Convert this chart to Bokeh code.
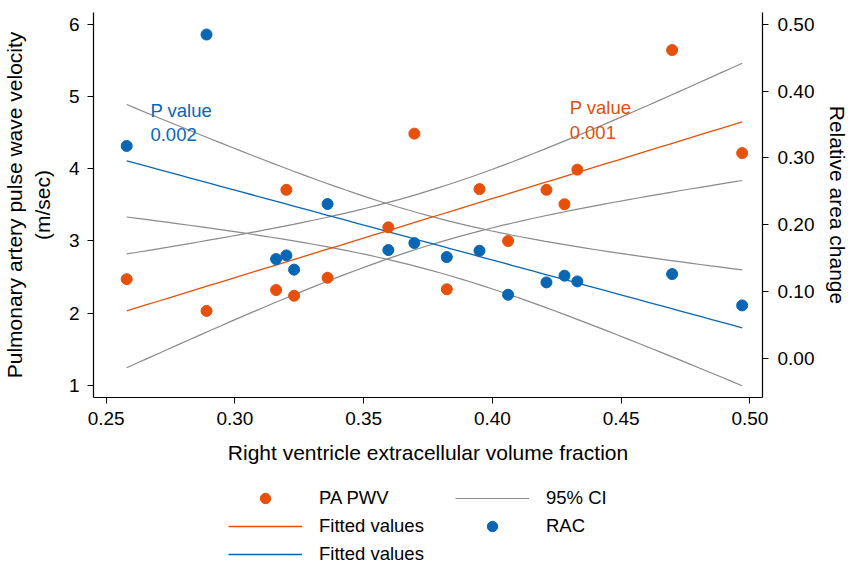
import numpy as np
from bokeh.plotting import figure
from bokeh.layouts import column
from bokeh.models import (Range1d, LinearAxis, FixedTicker, Legend, LegendItem,
                          Label, NumeralTickFormatter)
from bokeh.embed import file_html
from bokeh.resources import INLINE

# ---------------- data ----------------
rv_ecv = [0.258, 0.289, 0.316, 0.320, 0.323, 0.336, 0.3596, 0.3697,
          0.3823, 0.395, 0.4061, 0.421, 0.428, 0.433, 0.4698, 0.497]
pa_pwv = [2.47, 2.03, 2.32, 3.71, 2.24, 2.49, 3.19, 4.49,
          2.33, 3.72, 3.00, 3.71, 3.51, 3.99, 5.65, 4.22]
rac = [0.318, 0.485, 0.1485, 0.154, 0.1326, 0.231, 0.162, 0.1725,
       0.1515, 0.161, 0.095, 0.1135, 0.1236, 0.115, 0.126, 0.079]
x_ticks = [0.25, 0.30, 0.35, 0.40, 0.45, 0.50]
left_ticks = [1, 2, 3, 4, 5, 6]
right_ticks = [0.0, 0.1, 0.2, 0.3, 0.4, 0.5]
p_pwv = "0.001"
p_rac = "0.002"
T_CRIT = 2.1448  # t(0.975, df=14)

ORANGE = "#E6500A"
BLUE = "#0866B4"
GRAY = "#8A8A8A"
FONT = "Liberation Sans"


def linfit_ci(x, y, n_grid=60):
    x = np.asarray(x, float)
    y = np.asarray(y, float)
    n = len(x)
    xm, ym = x.mean(), y.mean()
    sxx = ((x - xm) ** 2).sum()
    b = ((x - xm) * (y - ym)).sum() / sxx
    a = ym - b * xm
    res = y - (a + b * x)
    s = np.sqrt((res ** 2).sum() / (n - 2))
    xs = np.linspace(x.min(), x.max(), n_grid)
    fit = a + b * xs
    half = T_CRIT * s * np.sqrt(1.0 / n + (xs - xm) ** 2 / sxx)
    return xs, fit, fit - half, fit + half


xs_o, fit_o, lo_o, hi_o = linfit_ci(rv_ecv, pa_pwv)
xs_b, fit_b, lo_b, hi_b = linfit_ci(rv_ecv, rac)

p = figure(width=852, height=482, output_backend="svg", toolbar_location=None,
           x_range=Range1d(0.2451, 0.5049), y_range=Range1d(0.828, 6.171),
           min_border_left=93, min_border_right=86, min_border_top=12,
           min_border_bottom=85)
p.outline_line_color = None
p.grid.visible = False
p.extra_y_ranges = {"rac": Range1d(-0.059, 0.518)}

p.line(xs_o, hi_o, line_color=GRAY, line_width=1.2)
p.line(xs_o, lo_o, line_color=GRAY, line_width=1.2)
p.line(xs_b, hi_b, line_color=GRAY, line_width=1.2, y_range_name="rac")
p.line(xs_b, lo_b, line_color=GRAY, line_width=1.2, y_range_name="rac")

p.line(xs_o, fit_o, line_color=ORANGE, line_width=1.3)
p.line(xs_b, fit_b, line_color=BLUE, line_width=1.3, y_range_name="rac")

p.scatter(rv_ecv, pa_pwv, size=11, fill_color=ORANGE, line_color=ORANGE)
p.scatter(rv_ecv, rac, size=11, fill_color=BLUE, line_color=BLUE,
          y_range_name="rac")


def style_axis(ax):
    ax.axis_line_color = "black"
    ax.axis_line_width = 1.2
    ax.major_tick_line_color = "black"
    ax.major_tick_out = 6
    ax.major_tick_in = 0
    ax.minor_tick_line_color = None
    ax.major_label_text_font = FONT
    ax.major_label_text_font_size = "19px"
    ax.major_label_text_color = "black"
    ax.axis_label_text_font = FONT
    ax.axis_label_text_font_size = "21px"
    ax.axis_label_text_font_style = "normal"
    ax.axis_label_text_color = "black"


xa = p.xaxis[0]
style_axis(xa)
xa.ticker = FixedTicker(ticks=x_ticks)
xa.formatter = NumeralTickFormatter(format="0.00")
xa.major_label_standoff = 8
xa.axis_label = "Right ventricle extracellular volume fraction"
xa.axis_label_standoff = 13

ya = p.yaxis[0]
style_axis(ya)
ya.ticker = FixedTicker(ticks=left_ticks)
ya.major_label_standoff = 8
ya.axis_label = "Pulmonary artery pulse wave velocity\n(m/sec)"
ya.axis_label_text_line_height = 1.2
ya.axis_label_standoff = 12

ra = LinearAxis(y_range_name="rac")
style_axis(ra)
ra.ticker = FixedTicker(ticks=right_ticks)
ra.formatter = NumeralTickFormatter(format="0.00")
ra.major_label_standoff = 9
ra.axis_label = "Relative area change"
ra.axis_label_standoff = 9
p.add_layout(ra, "right")

for txt, xv, yv, col in [("P value", 0.2672, 4.81, BLUE), (p_rac, 0.2672, 4.48, BLUE),
                         ("P value", 0.4300, 4.85, ORANGE), (p_pwv, 0.4300, 4.50, ORANGE)]:
    p.add_layout(Label(x=xv, y=yv, text=txt, text_color=col, text_font=FONT,
                       text_font_size="18.5px", text_baseline="middle"))

# ---------------- legend strip (same series, drawn outside its view) ----------------
lg = figure(width=852, height=85, output_backend="svg", toolbar_location=None,
            x_range=Range1d(0, 1), y_range=Range1d(100, 101),
            x_axis_type=None, y_axis_type=None, min_border=0)
lg.outline_line_color = None
lg.grid.visible = False
r_pwv = lg.scatter(rv_ecv, pa_pwv, size=11, fill_color=ORANGE, line_color=ORANGE)
r_fo = lg.line(xs_o, fit_o, line_color=ORANGE, line_width=1.3)
r_fb = lg.line(xs_b, fit_b, line_color=BLUE, line_width=1.3)
r_ci = lg.line(xs_o, hi_o, line_color=GRAY, line_width=1.2)
r_rac = lg.scatter(rv_ecv, rac, size=11, fill_color=BLUE, line_color=BLUE)


def make_legend(items, loc):
    return Legend(items=items, location=loc, orientation="vertical",
                  glyph_width=74, glyph_height=26, label_height=26,
                  label_standoff=17, spacing=2, padding=0, margin=0,
                  border_line_color=None, background_fill_alpha=0,
                  label_text_font=FONT, label_text_font_size="18.5px",
                  label_text_color="black")


lg.add_layout(make_legend([LegendItem(label="PA PWV", renderers=[r_pwv]),
                           LegendItem(label="Fitted values", renderers=[r_fo]),
                           LegendItem(label="Fitted values", renderers=[r_fb])],
                          (135, 0)), "center")
lg.add_layout(make_legend([LegendItem(label="95% CI", renderers=[r_ci]),
                           LegendItem(label="RAC", renderers=[r_rac])],
                          (362, 28)), "center")

open("out.html", "w").write(file_html(column(p, lg), INLINE))
